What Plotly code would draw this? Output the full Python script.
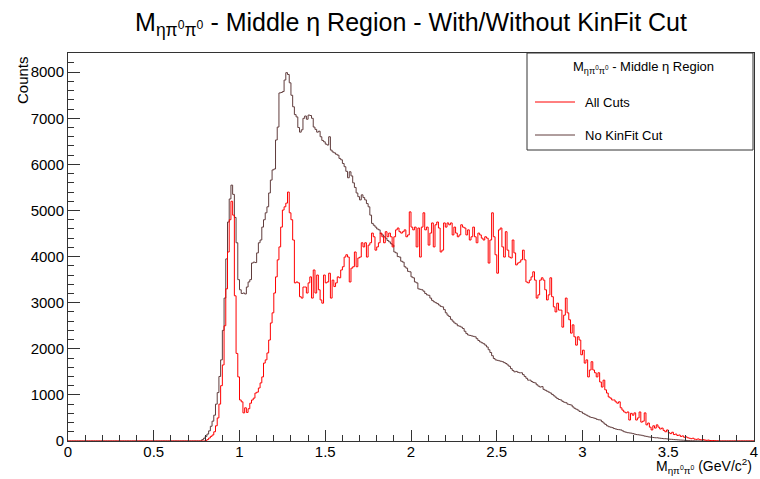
import numpy as np
import plotly.graph_objects as go

# ---------------- data (bin width 0.01 GeV/c^2, range 0..4) ----------------
bin_width = 0.01
n_bins = 400

nokin_start = 0.78
nokin_counts = [
    30, 60,
    100, 150, 220, 320, 430, 560, 800, 1050, 1400, 1760,
    2400, 3100, 3950, 4750, 5250, 5550, 5350, 4850, 4300, 3500,
    3280, 3200, 3210, 3190, 3340, 3450, 3500, 3860, 3880, 3870,
    4080, 4300, 4360, 4640, 4800, 4950, 5080, 5380, 5660, 5880,
    5900, 6530, 6810, 7550, 7560, 7580, 7830, 7990, 7950, 7770,
    7500, 7250, 7080, 7030, 6800, 6700, 6750, 7000, 7050, 6980,
    7070, 7060, 7000, 6810, 6760, 6700, 6720, 6600, 6520, 6490,
    6440, 6420, 6600, 6310, 6270, 6250, 6220, 6200, 6130, 6100,
    6020, 5950, 5850, 5710, 5840, 5750, 5600, 5500, 5380, 5300,
    5230, 5340, 5280, 5230, 5150, 5080, 4900, 4720, 4680, 4640,
    4600, 4580, 4500, 4470, 4430, 4400, 4350, 4320, 4280, 4250,
    4100, 4080, 4000, 3990, 3900, 3880, 3780, 3750, 3680, 3670,
    3560, 3540, 3450, 3430, 3300, 3290, 3280, 3250, 3200, 3170,
    3160, 3100, 3050, 3020, 3000, 2980, 2950, 2920, 2910, 2850,
    2780, 2730, 2700, 2640, 2600, 2560, 2540, 2500, 2490, 2470,
    2440, 2380, 2330, 2300, 2290, 2280, 2270, 2260, 2220, 2180,
    2150, 2130, 2110, 2080, 2040, 1980, 1920, 1850, 1790, 1760,
    1750, 1740, 1730, 1720, 1700, 1680, 1650, 1620, 1570, 1530,
    1500, 1510, 1490, 1480, 1480, 1440, 1400, 1360, 1320, 1320,
    1290, 1270, 1260, 1220, 1190, 1170, 1180, 1120, 1100, 1080,
    1060, 1040, 1010, 980, 950, 920, 900, 890, 860, 840,
    830, 800, 790, 780, 740, 710, 690, 670, 640, 630,
    600, 580, 560, 540, 520, 510, 500, 490, 470, 460,
    455, 420, 390, 360, 330, 310, 300, 290, 270, 260,
    250, 245, 240, 220, 200, 190, 180, 175, 170, 160,
    150, 140, 135, 130, 125, 115, 105, 100, 90, 85,
    80, 75, 70, 70, 65, 60, 55, 50, 50, 45,
    40, 38, 35, 30, 28, 25, 22, 20, 18, 15,
    12, 10, 8, 6, 5, 4, 3, 2, 2, 1, 1,
]

allcuts_start = 0.80
allcuts_counts = [
    10, 30, 65, 100, 130, 200, 330, 500, 800, 1200,
    1650, 2500, 3300, 4100, 4800, 5200, 4900, 3150, 1900, 1390,
    890, 850, 610, 720, 620, 700, 820, 890, 930, 1040,
    1060, 1150, 1260, 1390, 1690, 1760, 1910, 2190, 2560, 2780,
    3210, 3560, 3930, 4210, 4640, 5010, 5080, 5160, 5400, 4950,
    4800, 4360, 3430, 3450, 3430, 3130, 3100, 3340, 3340, 3210,
    3430, 3560, 3100, 3710, 3210, 3600, 3280, 3060, 2990, 3600,
    3430, 3450, 3640, 3100, 3490, 3350, 3430, 3560, 3540, 3710,
    3780, 3990, 4040, 3990, 3450, 3750, 3780, 4100, 3780, 3970,
    3990, 4300, 4210, 4300, 3990, 4250, 4300, 4510, 4430, 4140,
    4210, 4300, 4510, 4430, 4300, 4540, 4430, 4510, 4430, 4210,
    4430, 4580, 4620, 4540, 4510, 4540, 4580, 4430, 4470, 4970,
    4640, 4580, 4640, 4210, 4620, 3990, 4640, 4950, 4580, 4640,
    4250, 4510, 4730, 4210, 4690, 4750, 4620, 4100, 4140, 4730,
    4640, 4730, 4690, 4730, 4470, 4640, 4510, 4430, 4470, 4690,
    4640, 4620, 4470, 4580, 4360, 4430, 4640, 4430, 4300, 4510,
    4470, 4400, 4360, 4430, 4400, 3860, 4360, 4950, 4430, 4040,
    3640, 4580, 4620, 4210, 3990, 4540, 4140, 3990, 3970, 4360,
    4080, 3820, 3860, 3880, 3930, 4140, 3930, 3450, 3430, 3490,
    3560, 3670, 3490, 3100, 3170, 3490, 3540, 3490, 3280, 3060,
    3170, 3540, 3130, 2910, 2800, 2990, 2840, 2840, 2470, 2730,
    3100, 2780, 2630, 2340, 2520, 2260, 2080, 2260, 2190, 1870,
    1970, 1690, 1760, 1390, 1540, 1720, 1540, 1480, 1390, 1480,
    1280, 1170, 1320, 1110, 1040, 955, 930, 890, 890, 850,
    820, 850, 720, 670, 630, 610, 630, 455, 600, 560,
    610, 455, 500, 630, 410, 430, 610, 350, 390, 300,
    240, 330, 280, 350, 300, 260, 280, 230, 200, 240,
    180, 160, 190, 140, 150, 120, 130, 100, 110, 80,
    90, 70, 60, 50, 60, 40, 35, 45, 30, 25,
    30, 20, 15, 20, 10, 8, 10, 5, 3,
]

x_ticks = [0, 0.5, 1, 1.5, 2, 2.5, 3, 3.5, 4]
y_ticks = [0, 1000, 2000, 3000, 4000, 5000, 6000, 7000, 8000]

# ---------------- build full histograms ----------------
def full_hist(start, counts):
    h = np.zeros(n_bins)
    i0 = int(round(start / bin_width))
    h[i0:i0 + len(counts)] = counts
    return h

edges = np.arange(n_bins + 1) * bin_width
h_nokin = full_hist(nokin_start, nokin_counts)
h_all = full_hist(allcuts_start, allcuts_counts)

def step_xy(h):
    return list(edges), list(h) + [h[-1]]

RED = "#ff0000"
DARK = "#603c3c"
FONT = "Liberation Sans, Arial, Helvetica, sans-serif"

fig = go.Figure()
xs, ys = step_xy(h_nokin)
fig.add_trace(go.Scatter(x=xs, y=ys, mode="lines", line=dict(color=DARK, width=1, shape="hv"),
                         name="No KinFit Cut", showlegend=False, hoverinfo="skip"))
xs, ys = step_xy(h_all)
fig.add_trace(go.Scatter(x=xs, y=ys, mode="lines", line=dict(color=RED, width=1, shape="hv"),
                         name="All Cuts", showlegend=False, hoverinfo="skip"))

# plot area in pixels: x 68..754, y 53..441
W, H = 760, 479
L, R, T, B = 68, 754, 53, 441
pw, ph = R - L, B - T

def px(x):
    return (x - L) / pw

def py(y):
    return (B - y) / ph

fig.update_layout(
    width=W, height=H, autosize=False,
    margin=dict(l=L, r=W - R, t=T, b=H - B, pad=0, autoexpand=False),
    paper_bgcolor="white", plot_bgcolor="white",
    font=dict(family=FONT, size=15, color="black"),
    title=dict(text="M<sub>ηπ<sup>0</sup>π<sup>0</sup></sub> - Middle η Region - With/Without KinFit Cut",
               x=0.5 * (L + R) / W, xanchor="center", y=1 - 22 / H, yanchor="middle",
               font=dict(family=FONT, size=25, color="black")),
    xaxis=dict(range=[0, 4], tickvals=x_ticks, ticktext=[f"{v:g}" for v in x_ticks],
               ticks="inside", ticklen=11, tickwidth=1, tickcolor="#333",
               ticklabelstandoff=-3, automargin=False,
               minor=dict(dtick=0.1, ticks="inside", ticklen=6, tickcolor="#333", showgrid=False),
               showline=True, linecolor="#333", linewidth=1, mirror=True,
               showgrid=False, zeroline=False, tickfont=dict(size=15)),
    yaxis=dict(range=[0, (B - T) / 46.1 * 1000], tickvals=y_ticks, ticktext=[str(v) for v in y_ticks],
               ticks="inside", ticklen=12, tickwidth=1, tickcolor="#333", automargin=False,
               minor=dict(dtick=200, ticks="inside", ticklen=6, tickcolor="#333", showgrid=False),
               showline=True, linecolor="#333", linewidth=1, mirror=True,
               showgrid=False, zeroline=False, tickfont=dict(size=15)),
)

annotations = [
    dict(text="Counts", x=px(22), y=py(54), xref="paper", yref="paper", textangle=-90,
         xanchor="center", yanchor="top", showarrow=False, font=dict(size=15)),
    dict(text="M<sub>ηπ<sup>0</sup>π<sup>0</sup></sub> (GeV/c<sup>2</sup>)", x=1.0, y=py(466),
         xref="paper", yref="paper", xanchor="right", yanchor="middle", showarrow=False,
         font=dict(size=14)),
    # legend
    dict(text="M<sub>ηπ<sup>0</sup>π<sup>0</sup></sub> - Middle η Region", x=px(643), y=py(67),
         xref="paper", yref="paper", xanchor="center", yanchor="middle", showarrow=False,
         font=dict(size=13)),
    dict(text="All Cuts", x=px(583), y=py(102), xref="paper", yref="paper",
         xanchor="left", yanchor="middle", showarrow=False, font=dict(size=13)),
    dict(text="No KinFit Cut", x=px(583), y=py(135), xref="paper", yref="paper",
         xanchor="left", yanchor="middle", showarrow=False, font=dict(size=13)),
]
shapes = [
    dict(type="rect", xref="paper", yref="paper", x0=px(527), x1=px(753), y0=py(150), y1=py(53),
         line=dict(color="#333", width=1), fillcolor="white", layer="above"),
    dict(type="line", xref="paper", yref="paper", x0=px(535), x1=px(575), y0=py(102), y1=py(102),
         line=dict(color=RED, width=1)),
    dict(type="line", xref="paper", yref="paper", x0=px(535), x1=px(575), y0=py(135), y1=py(135),
         line=dict(color=DARK, width=1)),
]
fig.update_layout(annotations=annotations, shapes=shapes)

fig.write_html("out.html", config={"displayModeBar": False, "responsive": False})

# remove the browser's default page margin so the figure sits at (0, 0)
with open("out.html", "r", encoding="utf-8") as f:
    html = f.read()
html = html.replace("<head>", "<head><style>html,body{margin:0;padding:0;overflow:hidden;}</style>", 1)
with open("out.html", "w", encoding="utf-8") as f:
    f.write(html)
